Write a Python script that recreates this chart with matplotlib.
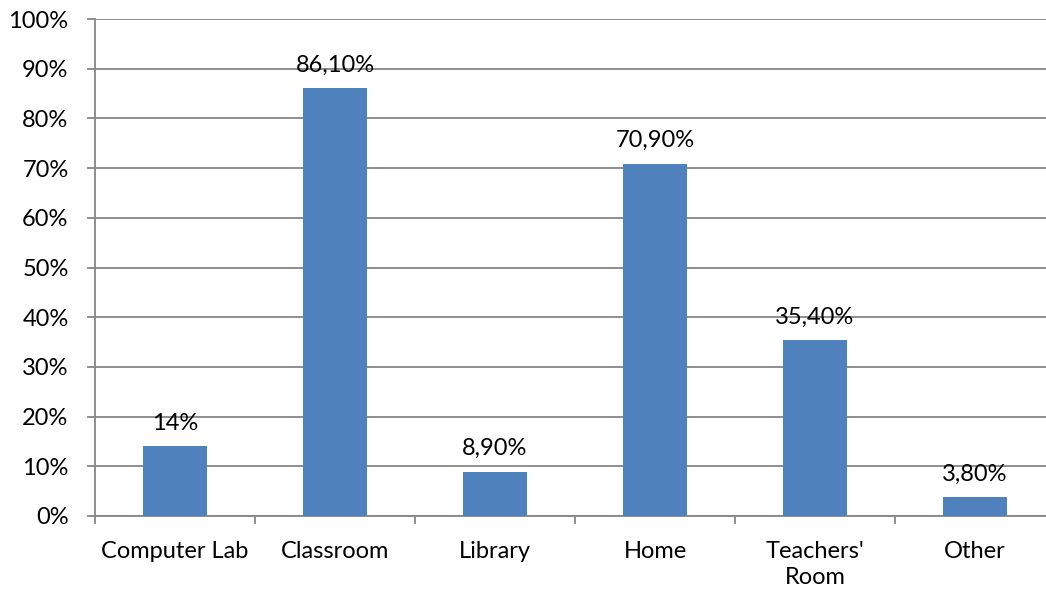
import numpy as np
import matplotlib.pyplot as plt
from matplotlib.ticker import FuncFormatter

categories = ["Computer Lab", "Classroom", "Library", "Home", "Teachers'\nRoom", "Other"]
values = [14.0, 86.1, 8.9, 70.9, 35.4, 3.8]
labels = ["14%", "86,10%", "8,90%", "70,90%", "35,40%", "3,80%"]

plt.rcParams['font.family'] = ['Lato', 'DejaVu Sans']
gray = "#868686"
fs = 17

fig = plt.figure(figsize=(10.46, 5.95), dpi=100)
# plot area runs a bit past the right edge, as in the original
ax = fig.add_axes([95/1046, 1-516/595, 960/1046, 497/595])

x = np.arange(len(categories))
ax.bar(x, values, width=0.4, color="#4F81BD", zorder=3)
for xi, v, lab in zip(x, values, labels):
    ax.annotate(lab, (xi, v), xytext=(0, 12), textcoords="offset points",
                ha="center", va="baseline", fontsize=fs)

ax.set_xlim(-0.5, len(categories) - 0.5)
ax.set_ylim(0, 100)
ax.set_yticks(np.arange(0, 101, 10))
ax.yaxis.set_major_formatter(FuncFormatter(lambda v, p: f"{v:.0f}%"))
ax.yaxis.grid(True, color=gray, linewidth=1.3, zorder=0)

ax.set_xticks(x)
ax.set_xticklabels(categories, linespacing=1.3)
ax.set_xticks(np.arange(-0.5, len(categories)), minor=True)
ax.tick_params(axis="x", which="major", length=0, pad=18, labelsize=fs)
ax.tick_params(axis="x", which="minor", length=6, color=gray, width=1.3)
ax.tick_params(axis="y", length=6, color=gray, width=1.3, labelsize=fs, pad=13)

for s in ["top", "right"]:
    ax.spines[s].set_visible(False)
for s in ["left", "bottom"]:
    ax.spines[s].set_color(gray)
    ax.spines[s].set_linewidth(1.3)

fig.savefig("out.png", dpi=100)
